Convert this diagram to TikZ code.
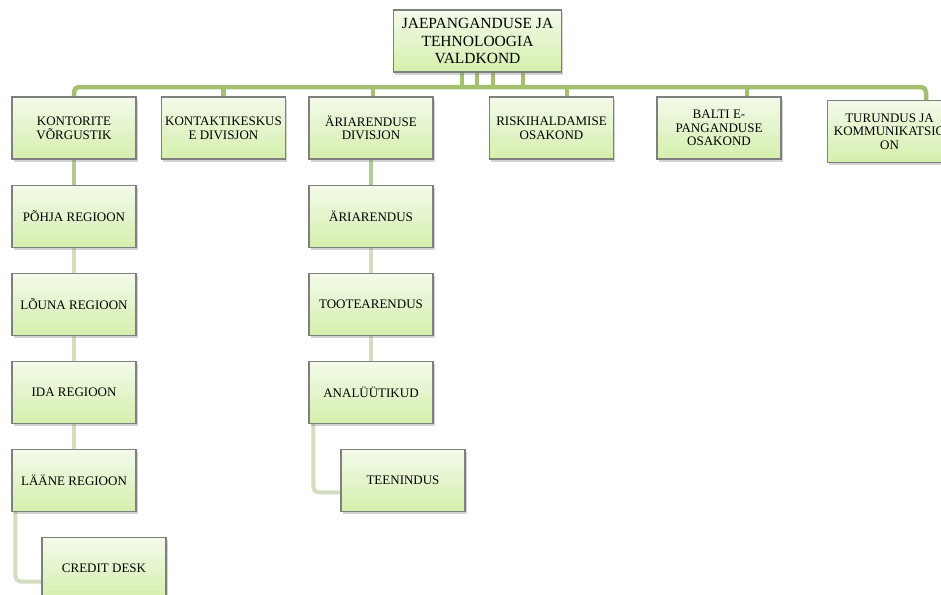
\documentclass[tikz,border=0pt]{standalone}
\usepackage{fontspec}
\setmainfont{Liberation Serif}
\usetikzlibrary{positioning,shadows,backgrounds}
\definecolor{busgreen}{HTML}{A3C06F}
\definecolor{midgreen}{HTML}{B5CA92}
\definecolor{palegreen}{HTML}{D4DCC2}
\definecolor{boxtop}{HTML}{F3FAEA}
\definecolor{boxbottom}{HTML}{D5EFAD}
\definecolor{boxline}{HTML}{7F7F7F}

\begin{document}
\begin{tikzpicture}[
  x=1pt, y=1pt,
  node distance=25pt,
  unit/.style={
    draw=boxline, line width=1.1pt,
    top color=boxtop, bottom color=boxbottom,
    drop shadow={shadow xshift=1.5pt, shadow yshift=-2.5pt, opacity=0.35},
    align=center, inner sep=2pt,
    minimum width=124pt, minimum height=62pt,
    font=\fontsize{13}{13.6}\selectfont
  },
  head/.style={unit, minimum width=168pt, font=\fontsize{15.5}{17.5}\selectfont},
  bus/.style={busgreen, line width=4.5pt},
  link/.style={midgreen, line width=4pt},
  sublink/.style={palegreen, line width=4pt}
]
\useasboundingbox (0,0) rectangle (941,-594);
\clip (0,0) rectangle (941,-594);

\node[head] (jae) at (477.5,-41) {JAEPANGANDUSE JA\\TEHNOLOOGIA\\VALDKOND};

\node[unit] (kontor) at (74,-128) {KONTORITE\\VÕRGUSTIK};
\node[unit] (kontakt) at (223.5,-128) {KONTAKTIKESKUS\\E DIVISJON};
\node[unit] (ariar) at (371,-128) {ÄRIARENDUSE\\DIVISJON};
\node[unit] (risk) at (551.5,-128) {RISKIHALDAMISE\\OSAKOND};
\node[unit] (balti) at (719,-128) {BALTI E-\\PANGANDUSE\\OSAKOND};
\node[unit] (turundus) at (889.5,-131.5) {TURUNDUS JA\\KOMMUNIKATSIO\\ON};

\node[unit] (pohja) [below=of kontor] {PÕHJA REGIOON};
\node[unit] (louna) [below=of pohja] {LÕUNA REGIOON};
\node[unit] (ida) [below=of louna] {IDA REGIOON};
\node[unit] (laane) [below=of ida] {LÄÄNE REGIOON};
\node[unit] (credit) [below=of laane, xshift=30pt] {CREDIT DESK};

\node[unit] (arendus) [below=of ariar] {ÄRIARENDUS};
\node[unit] (toote) [below=of arendus] {TOOTEARENDUS};
\node[unit] (analyytik) [below=of toote] {ANALÜÜTIKUD};
\node[unit] (teenindus) [below=of analyytik, xshift=32pt] {TEENINDUS};

\begin{scope}[on background layer]
\coordinate (rail) at (0,-87);
\draw[bus, rounded corners=5pt] (kontor.north) -- (kontor.north |- rail)
  -- ([xshift=36.5pt]turundus.north |- rail) -- ([xshift=36.5pt]turundus.north);
\foreach \dx in {-15.5,-0.5,15.5,45.5}
  \draw[bus] ([xshift=\dx pt]jae.south) -- ([xshift=\dx pt]jae.south |- rail);
\draw[bus] (kontakt.north) -- (kontakt.north |- rail);
\draw[bus] ([xshift=2pt]ariar.north) -- ([xshift=2pt]ariar.north |- rail);
\draw[bus] ([xshift=15.5pt]risk.north) -- ([xshift=15.5pt]risk.north |- rail);
\draw[bus] ([xshift=28pt]balti.north) -- ([xshift=28pt]balti.north |- rail);

\draw[link] (kontor) -- (pohja);
\draw[sublink] (pohja) -- (louna);
\draw[sublink] (louna) -- (ida);
\draw[sublink] (ida) -- (laane);
\draw[sublink, rounded corners=5pt] ([xshift=4pt]laane.south west) |- ([yshift=-13pt]credit.west);

\draw[link] (ariar) -- (arendus);
\draw[sublink] (arendus) -- (toote);
\draw[sublink] (toote) -- (analyytik);
\draw[sublink, rounded corners=5pt] ([xshift=5pt]analyytik.south west) |- ([yshift=-12pt]teenindus.west);
\end{scope}
\end{tikzpicture}
\end{document}
